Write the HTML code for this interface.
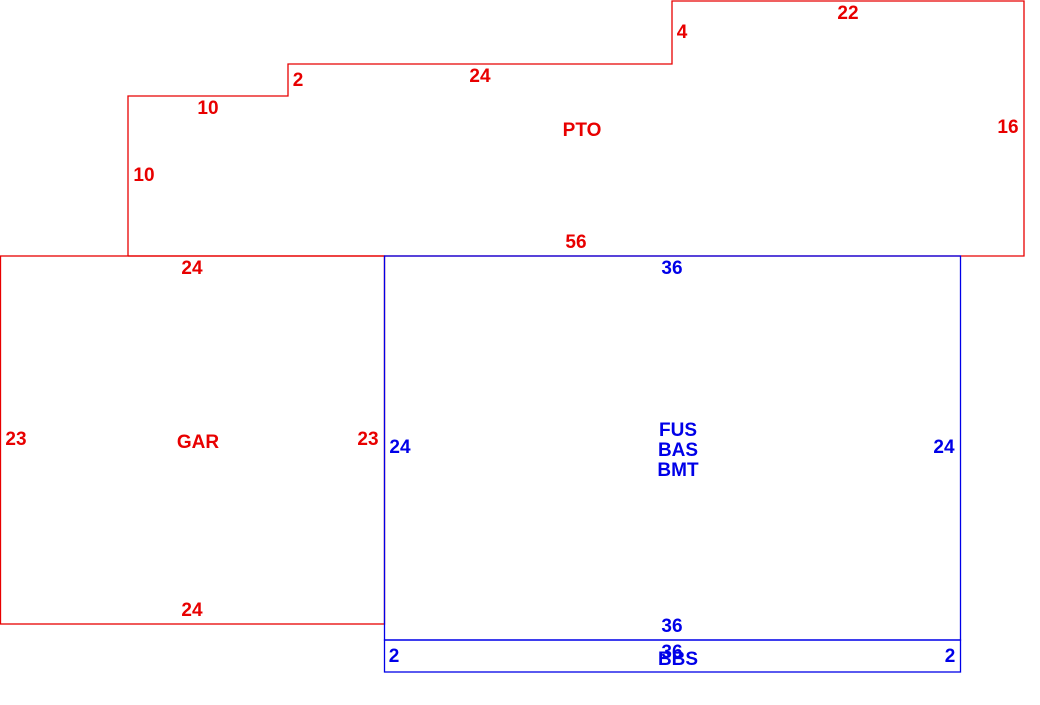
<!DOCTYPE html>
<html><head><style>
html,body{margin:0;padding:0;background:#fff;}
svg{display:block;}
text{font-family:"Liberation Sans",Arial,sans-serif;font-weight:bold;font-size:19px;}
.r{fill:#e80000;} .b{fill:#0000e8;}
</style></head><body>
<svg width="1040" height="705" viewBox="0 0 1040 705">
<g fill="none" stroke-width="1.3">
<polyline stroke="#e80000" points="128,256 128,96 288,96 288,64 672,64 672,1 1024,1 1024,256 128,256"/>
<rect stroke="#e80000" x="0.5" y="256" width="384" height="368"/>
<rect stroke="#0000e8" x="384.5" y="256" width="576" height="384"/>
<rect stroke="#0000e8" x="384.5" y="640" width="576" height="32"/>
</g>
<g class="r" text-anchor="middle">
<text x="848" y="19">22</text>
<text x="682" y="38">4</text>
<text x="298" y="86">2</text>
<text x="480" y="82">24</text>
<text x="208" y="114">10</text>
<text x="582" y="136">PTO</text>
<text x="1008" y="133">16</text>
<text x="144" y="181">10</text>
<text x="576" y="248">56</text>
<text x="192" y="274">24</text>
<text x="16" y="445">23</text>
<text x="198" y="448">GAR</text>
<text x="368" y="445">23</text>
<text x="192" y="616">24</text>
</g>
<g class="b" text-anchor="middle">
<text x="672" y="274">36</text>
<text x="400" y="453">24</text>
<text x="944" y="453">24</text>
<text x="678" y="436">FUS</text>
<text x="678" y="456">BAS</text>
<text x="678" y="476">BMT</text>
<text x="672" y="632">36</text>
<text x="394" y="662">2</text>
<text x="950" y="662">2</text>
<text x="672" y="658">36</text>
<text x="678" y="665">BBS</text>
</g>
</svg>
</body></html>
